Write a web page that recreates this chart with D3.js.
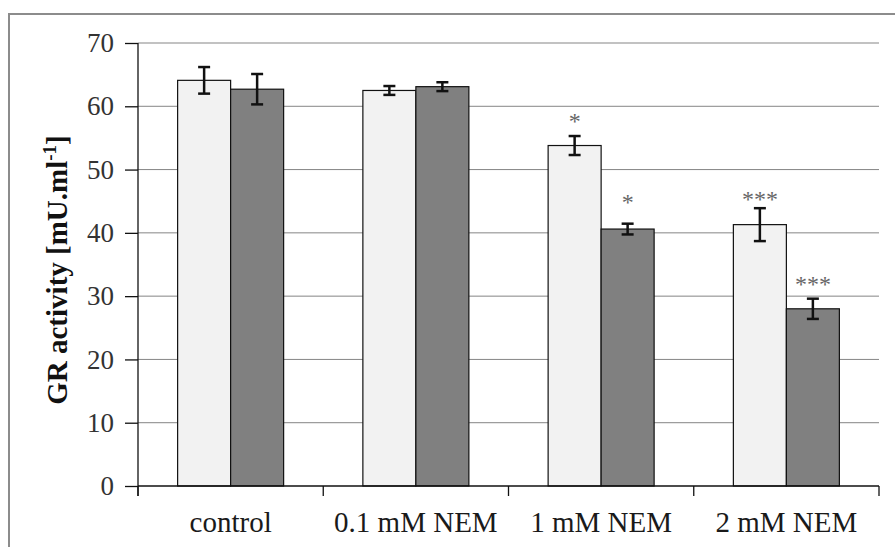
<!DOCTYPE html>
<html>
<head>
<meta charset="utf-8">
<script src="https://cdn.jsdelivr.net/npm/d3@7"></script>
<style>
  html, body { margin: 0; padding: 0; background: #fff; }
  svg { display: block; }
</style>
</head>
<body>
<svg id="chart" width="895" height="547"></svg>
<script>
// ---- data ----
const categories = ["control", "0.1 mM NEM", "1 mM NEM", "2 mM NEM"];
const seriesNames = ["light", "dark"];
const lightValues = [64.1, 62.5, 53.8, 41.3];
const lightErrors = [2.1, 0.7, 1.5, 2.6];
const darkValues  = [62.7, 63.1, 40.6, 28.0];
const darkErrors  = [2.4, 0.7, 0.85, 1.6];
const yTicks = [0, 10, 20, 30, 40, 50, 60, 70];
// significance marks: [category, series, text, value-position of baseline]
const annotations = [
  ["1 mM NEM", "light", "*", 56.7],
  ["1 mM NEM", "dark", "*", 43.9],
  ["2 mM NEM", "light", "***", 44.4],
  ["2 mM NEM", "dark", "***", 31.0]
];

(function () {
// ---- layout ----
const svg = d3.select("#chart");
const pLeft = 138, pRight = 879, pTop = 43, pBottom = 486;

const x0 = d3.scaleBand().domain(categories).range([pLeft, pRight]).paddingInner(0).paddingOuter(0);
const groupW = 106;
const x1 = d3.scaleBand().domain(seriesNames).range([0, groupW]);
const off = (x0.bandwidth() - groupW) / 2;
const y = d3.scaleLinear().domain([0, 70]).range([pBottom, pTop]);

const fills = { light: "#f2f2f2", dark: "#808080" };
const serif = "'Liberation Serif', 'Times New Roman', serif";

// outer frame
svg.append("rect")
  .attr("x", 9).attr("y", 14).attr("width", 960).attr("height", 600)
  .attr("fill", "none").attr("stroke", "#8c8c8c").attr("stroke-width", 2);

// gridlines
svg.append("g").selectAll("line")
  .data(yTicks.filter(d => d > 0))
  .join("line")
  .attr("x1", pLeft).attr("x2", pRight)
  .attr("y1", d => y(d)).attr("y2", d => y(d))
  .attr("stroke", "#858585").attr("stroke-width", 1);

// bars
const rows = [];
categories.forEach((c, i) => {
  rows.push({ cat: c, s: "light", v: lightValues[i], e: lightErrors[i] });
  rows.push({ cat: c, s: "dark", v: darkValues[i], e: darkErrors[i] });
});

svg.append("g").selectAll("rect")
  .data(rows)
  .join("rect")
  .attr("x", d => x0(d.cat) + off + x1(d.s))
  .attr("y", d => y(d.v))
  .attr("width", x1.bandwidth())
  .attr("height", d => y(0) - y(d.v))
  .attr("fill", d => fills[d.s])
  .attr("stroke", "#111").attr("stroke-width", 1.2);

// error bars
const eg = svg.append("g").attr("stroke", "#111").attr("stroke-width", 2.5);
rows.forEach(d => {
  const cx = x0(d.cat) + off + x1(d.s) + x1.bandwidth() / 2;
  eg.append("line").attr("x1", cx).attr("x2", cx).attr("y1", y(d.v + d.e)).attr("y2", y(d.v - d.e));
  eg.append("line").attr("x1", cx - 6).attr("x2", cx + 6).attr("y1", y(d.v + d.e)).attr("y2", y(d.v + d.e));
  eg.append("line").attr("x1", cx - 6).attr("x2", cx + 6).attr("y1", y(d.v - d.e)).attr("y2", y(d.v - d.e));
});

// annotations
svg.append("g").selectAll("text")
  .data(annotations)
  .join("text")
  .attr("x", d => x0(d[0]) + off + x1(d[1]) + x1.bandwidth() / 2)
  .attr("y", d => y(d[3]) + 2)
  .attr("text-anchor", "middle")
  .attr("font-family", serif)
  .attr("font-size", 24)
  .attr("fill", "#666")
  .text(d => d[2]);

// y axis
const yAxis = d3.axisLeft(y).tickValues(yTicks).tickSize(13).tickPadding(11).tickFormat(d3.format("d"));
const yg = svg.append("g").attr("transform", `translate(${pLeft},0)`).call(yAxis);
yg.select(".domain").remove();
yg.selectAll(".tick line").attr("stroke", "#111").attr("stroke-width", 1.3);
yg.selectAll(".tick text")
  .attr("font-family", serif)
  .attr("font-size", 27).attr("fill", "#333");
svg.append("line").attr("x1", pLeft).attr("x2", pLeft).attr("y1", pTop).attr("y2", pBottom + 10)
  .attr("stroke", "#111").attr("stroke-width", 1.3);

// x axis
svg.append("line").attr("x1", pLeft).attr("x2", pRight).attr("y1", pBottom).attr("y2", pBottom)
  .attr("stroke", "#111").attr("stroke-width", 1.3);
const bounds = categories.map(c => x0(c)).concat([x0(categories[categories.length - 1]) + x0.bandwidth()]);
svg.append("g").selectAll("line").data(bounds).join("line")
  .attr("x1", d => d).attr("x2", d => d).attr("y1", pBottom).attr("y2", pBottom + 10)
  .attr("stroke", "#111").attr("stroke-width", 1.3);
svg.append("g").selectAll("text").data(categories).join("text")
  .attr("x", d => x0(d) + x0.bandwidth() / 2)
  .attr("y", 532)
  .attr("text-anchor", "middle")
  .attr("font-family", serif)
  .attr("font-size", 29).attr("fill", "#1a1a1a")
  .text(d => d);

// y title
const yt = svg.append("text")
  .attr("transform", "translate(67,270) rotate(-90)")
  .attr("text-anchor", "middle")
  .attr("font-family", serif)
  .attr("font-size", 29).attr("font-weight", "bold").attr("fill", "#111");
yt.append("tspan").text("GR activity [mU.ml");
yt.append("tspan").attr("font-size", 19).attr("dy", -11).text("-1");
yt.append("tspan").attr("dy", 11).text("]");
})();
</script>
</body>
</html>
